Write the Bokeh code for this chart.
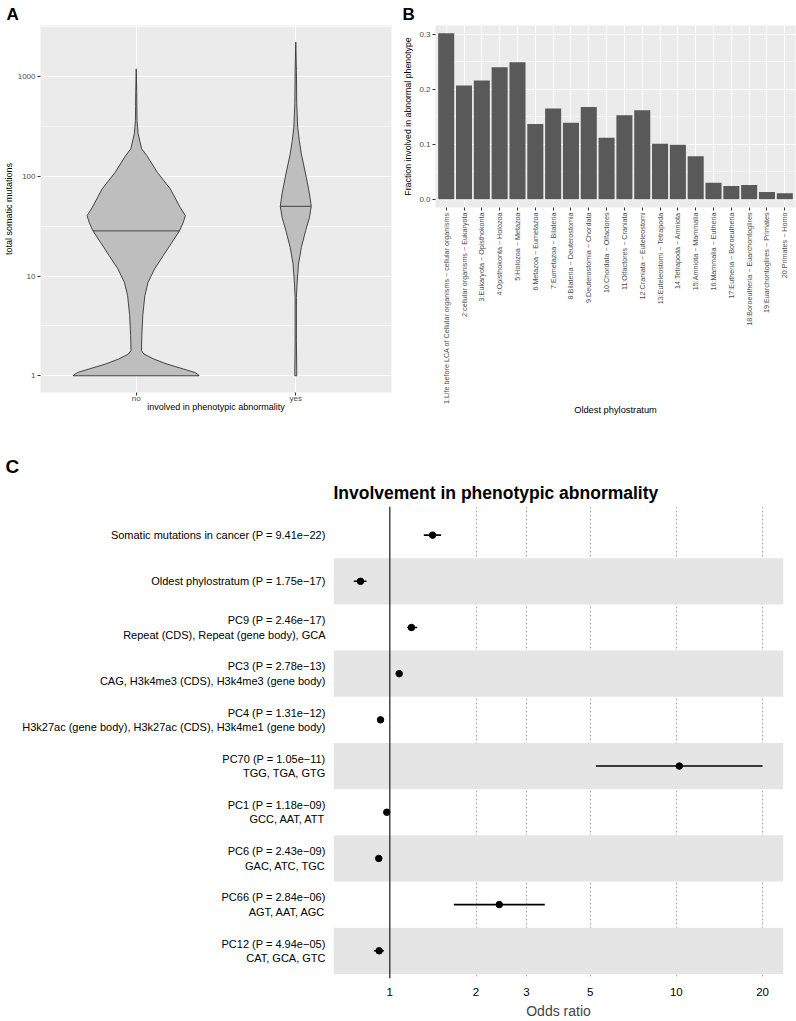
import numpy as np
from bokeh.plotting import figure
from bokeh.models import (Range1d, FixedTicker, BoxAnnotation, Span, Title,
                          NumeralTickFormatter)
from bokeh.layouts import column, row
from bokeh.embed import file_html
from bokeh.resources import INLINE

FONT = "Liberation Sans"

# ---------------- Panel A data (violin outlines) -------------
violin_groups = ["no", "yes"]
no_counts = [1200, 708, 500, 363, 267, 189, 162, 110, 74.8, 49, 40.4, 34.6, 28.4,
             21.8, 16.0, 11.8, 8.65, 6.35, 4.0, 2.52, 1.78, 1.65, 1.47, 1.31,
             1.17, 1.08, 1.016, 1.0]
no_halfwidth = [0.0, 0.003, 0.004, 0.005, 0.012, 0.034, 0.066, 0.132, 0.214, 0.275,
                0.308, 0.295, 0.271, 0.224, 0.169, 0.115, 0.074, 0.054, 0.041,
                0.035, 0.033, 0.049, 0.111, 0.193, 0.295, 0.367, 0.392, 0.394]
yes_counts = [2218, 1153, 535, 311, 229, 168, 98, 66.7, 50.1, 38.8, 28.6, 19.4,
              13.2, 8.3, 6.1, 2.24, 1.12, 1.0]
yes_halfwidth = [0.0, 0.004, 0.006, 0.012, 0.022, 0.035, 0.066, 0.086, 0.097,
                 0.086, 0.062, 0.035, 0.017, 0.008, 0.004, 0.004, 0.006, 0.006]
medians = [28.4, 50.1]
a_yticks = [1, 10, 100, 1000]
a_yminor = [3.162, 31.62, 316.2, 3162]

# ---------------- Panel B data ----------------
strata = [
    "1:Life before LCA of Cellular organisms − cellular organisms",
    "2:cellular organisms − Eukaryota",
    "3:Eukaryota − Opisthokonta",
    "4:Opisthokonta − Holozoa",
    "5:Holozoa − Metazoa",
    "6:Metazoa − Eumetazoa",
    "7:Eumetazoa − Bilateria",
    "8:Bilateria − Deuterostomia",
    "9:Deuterostomia − Chordata",
    "10:Chordata − Olfactores",
    "11:Olfactores − Craniata",
    "12:Craniata − Euteleostomi",
    "13:Euteleostomi − Tetrapoda",
    "14:Tetrapoda − Amniota",
    "15:Amniota − Mammalia",
    "16:Mammalia − Eutheria",
    "17:Eutheria − Boroeutheria",
    "18:Boroeutheria − Euarchontoglires",
    "19:Euarchontoglires − Primates",
    "20:Primates − Homo",
]
fraction = [0.302, 0.207, 0.216, 0.240, 0.249, 0.137, 0.165, 0.139, 0.168, 0.112,
            0.153, 0.162, 0.101, 0.099, 0.078, 0.030, 0.024, 0.026, 0.013, 0.011]
b_yticks = [0.0, 0.1, 0.2, 0.3]
b_yminor = [0.05, 0.15, 0.25]

# ---------------- Panel C data ----------------
row_labels = [
    "Somatic mutations in cancer (P = 9.41e−22)",
    "Oldest phylostratum (P = 1.75e−17)",
    "PC9 (P = 2.46e−17)\nRepeat (CDS), Repeat (gene body), GCA",
    "PC3 (P = 2.78e−13)\nCAG, H3k4me3 (CDS), H3k4me3 (gene body)",
    "PC4 (P = 1.31e−12)\nH3k27ac (gene body), H3k27ac (CDS), H3k4me1 (gene body)",
    "PC70 (P = 1.05e−11)\nTGG, TGA, GTG",
    "PC1 (P = 1.18e−09)\nGCC, AAT, ATT",
    "PC6 (P = 2.43e−09)\nGAC, ATC, TGC",
    "PC66 (P = 2.84e−06)\nAGT, AAT, AGC",
    "PC12 (P = 4.94e−05)\nCAT, GCA, GTC",
]
odds = [1.41, 0.790, 1.19, 1.078, 0.928, 10.24, 0.976, 0.915, 2.41, 0.918]
ci_low = [1.314, 0.749, 1.15, 1.065, 0.918, 5.24, 0.968, 0.905, 1.673, 0.880]
ci_high = [1.51, 0.829, 1.246, 1.09, 0.938, 20.0, 0.984, 0.925, 3.475, 0.953]
or_ticks = [1, 2, 3, 5, 10, 20]

TXT = "#4D4D4D"
TICK = "#333333"
PANEL = "#EBEBEB"


def style_gg(p):
    p.background_fill_color = PANEL
    p.border_fill_color = "white"
    p.outline_line_color = None
    for ax in (p.xaxis, p.yaxis):
        ax.axis_line_color = None
        ax.major_tick_line_color = TICK
        ax.major_tick_out = 3
        ax.major_tick_in = 0
        ax.minor_tick_line_color = None
        ax.minor_tick_out = 0
        ax.minor_tick_in = 0
        ax.major_label_text_color = TXT
        ax.major_label_text_font = FONT
        ax.axis_label_text_font = FONT
        ax.axis_label_text_font_style = "normal"
        ax.axis_label_text_color = "black"
    p.grid.grid_line_color = "white"
    p.grid.grid_line_width = 1.1
    p.grid.minor_grid_line_color = "white"
    p.grid.minor_grid_line_width = 0.55


def letter(p, text, offset, size, standoff):
    t = p.title
    t.text = text
    t.text_font = FONT
    t.text_font_style = "bold"
    t.text_font_size = size
    t.text_color = "black"
    t.align = "left"
    t.offset = offset
    t.standoff = standoff


# ---------------- Panel A ----------------
pA = figure(width=400, height=420, y_axis_type="log",
            x_range=Range1d(0.4, 2.6), y_range=Range1d(10 ** -0.168, 10 ** 3.514),
            output_backend="svg", toolbar_location=None,
            min_border_left=33, min_border_right=9, min_border_top=25,
            min_border_bottom=28)
style_gg(pA)
pA.xaxis.ticker = FixedTicker(ticks=[1, 2])
pA.xaxis.major_label_overrides = {1: violin_groups[0], 2: violin_groups[1]}
pA.yaxis.ticker = FixedTicker(ticks=a_yticks, minor_ticks=a_yminor)
pA.xgrid.ticker = FixedTicker(ticks=[1, 2])
pA.ygrid.ticker = FixedTicker(ticks=a_yticks, minor_ticks=a_yminor)
pA.xgrid.minor_grid_line_color = None
pA.yaxis.formatter = NumeralTickFormatter(format="0")
pA.xaxis.major_label_text_font_size = "8px"
pA.yaxis.major_label_text_font_size = "8px"
pA.xaxis.major_label_standoff = -2
pA.yaxis.major_label_standoff = 2
pA.xaxis.axis_label = "involved in phenotypic abnormality"
pA.yaxis.axis_label = "total somatic mutations"
pA.xaxis.axis_label_text_font_size = "9px"
pA.yaxis.axis_label_text_font_size = "9px"
pA.xaxis.axis_label_standoff = -4
pA.yaxis.axis_label_standoff = 1

for i, (cnt, hw) in enumerate([(no_counts, no_halfwidth), (yes_counts, yes_halfwidth)]):
    c = i + 1
    cnt = np.array(cnt, dtype=float)
    hw = np.array(hw, dtype=float)
    xs = np.concatenate([c + hw, (c - hw)[::-1]])
    ys = np.concatenate([cnt, cnt[::-1]])
    pA.patch(xs, ys, fill_color="#BEBEBE", line_color="#333333", line_width=0.9)
    m = medians[i]
    w = np.interp(np.log10(m), np.log10(cnt[::-1]), hw[::-1])
    pA.segment(x0=[c - w], x1=[c + w], y0=[m], y1=[m], line_color="#333333",
               line_width=0.9)
letter(pA, "A", -34, "17px", 3)

# ---------------- Panel B ----------------
pB = figure(width=396, height=420, x_range=Range1d(0.4, 20.6),
            y_range=Range1d(-0.015, 0.316),
            output_backend="svg", toolbar_location=None,
            min_border_left=32, min_border_right=1, min_border_top=25,
            min_border_bottom=213)
style_gg(pB)
bx = list(range(1, len(strata) + 1))
pB.vbar(x=bx, top=fraction, bottom=0, width=0.9, fill_color="#595959",
        line_color=None)
pB.xaxis.ticker = FixedTicker(ticks=bx)
pB.xgrid.ticker = FixedTicker(ticks=bx)
pB.xgrid.minor_grid_line_color = None
pB.xaxis.major_label_overrides = {k: s for k, s in zip(bx, strata)}
pB.xaxis.major_label_orientation = np.pi / 2
pB.xaxis.major_label_text_font_size = "7.2px"
pB.xaxis.major_label_standoff = 2
pB.yaxis.ticker = FixedTicker(ticks=b_yticks, minor_ticks=b_yminor)
pB.ygrid.ticker = FixedTicker(ticks=b_yticks, minor_ticks=b_yminor)
pB.yaxis.formatter = NumeralTickFormatter(format="0.0")
pB.yaxis.major_label_text_font_size = "8px"
pB.yaxis.major_label_standoff = 2
pB.xaxis.axis_label = "Oldest phylostratum"
pB.yaxis.axis_label = "Fraction involved in abnormal phenotype"
pB.xaxis.axis_label_text_font_size = "9.3px"
pB.yaxis.axis_label_text_font_size = "8.8px"
pB.xaxis.axis_label_standoff = -2
pB.yaxis.axis_label_standoff = 3
letter(pB, "B", -33, "17px", 3)

# ---------------- Panel C ----------------
pC = figure(width=796, height=601, x_axis_type="log",
            x_range=Range1d(0.636, 23.66), y_range=Range1d(10.6, 0.38),
            output_backend="svg", toolbar_location=None,
            min_border_left=333, min_border_right=13, min_border_top=86,
            min_border_bottom=33)
pC.background_fill_color = "white"
pC.border_fill_color = "white"
pC.outline_line_color = None
rows = list(range(1, len(row_labels) + 1))
for r in rows[1::2]:
    pC.add_layout(BoxAnnotation(bottom=r - 0.5, top=r + 0.5, fill_color="#E5E5E5",
                                fill_alpha=1.0, line_color=None, level="underlay"))
pC.ygrid.grid_line_color = None
pC.xgrid.ticker = FixedTicker(ticks=or_ticks[1:])
pC.xgrid.grid_line_color = "#9A9A9A"
pC.xgrid.grid_line_dash = "2 2"
pC.xgrid.grid_line_width = 0.8
pC.xgrid.level = "underlay"
pC.add_layout(Span(location=1, dimension="height", line_color="#1A1A1A",
                   line_width=1.2))
pC.segment(x0=ci_low, x1=ci_high, y0=rows, y1=rows, line_color="black",
           line_width=1.6)
pC.scatter(x=odds, y=rows, size=6.5, fill_color="black", line_color="black")

pC.yaxis.ticker = FixedTicker(ticks=rows)
pC.yaxis.major_label_overrides = {k: s for k, s in zip(rows, row_labels)}
pC.yaxis.axis_line_color = None
pC.yaxis.major_tick_line_color = None
pC.yaxis.minor_tick_line_color = None
pC.yaxis.major_tick_out = 0
pC.yaxis.minor_tick_out = 0
pC.yaxis.major_label_text_font = FONT
pC.yaxis.major_label_text_font_size = "11px"
pC.yaxis.major_label_text_color = "black"
pC.yaxis.major_label_standoff = 8

pC.xaxis.ticker = FixedTicker(ticks=or_ticks)
pC.xaxis.formatter = NumeralTickFormatter(format="0")
pC.xaxis.axis_line_color = None
pC.xaxis.major_tick_line_color = None
pC.xaxis.minor_tick_line_color = None
pC.xaxis.major_tick_out = 0
pC.xaxis.minor_tick_out = 0
pC.xaxis.major_label_text_font = FONT
pC.xaxis.major_label_text_font_size = "11.5px"
pC.xaxis.major_label_text_color = "black"
pC.xaxis.major_label_standoff = 9
pC.xaxis.axis_label = "Odds ratio"
pC.xaxis.axis_label_text_font = FONT
pC.xaxis.axis_label_text_font_style = "normal"
pC.xaxis.axis_label_text_font_size = "14px"
pC.xaxis.axis_label_standoff = 4

letter(pC, "C", -328, "19px", 0)
pC.add_layout(Title(text="Involvement in phenotypic abnormality", text_font=FONT,
                    text_font_size="17.5px", text_font_style="bold",
                    text_color="black", align="left", standoff=8), "above")

layout = column(row(column(pA), column(pB)), pC)
open("out.html", "w").write(file_html(layout, INLINE))
